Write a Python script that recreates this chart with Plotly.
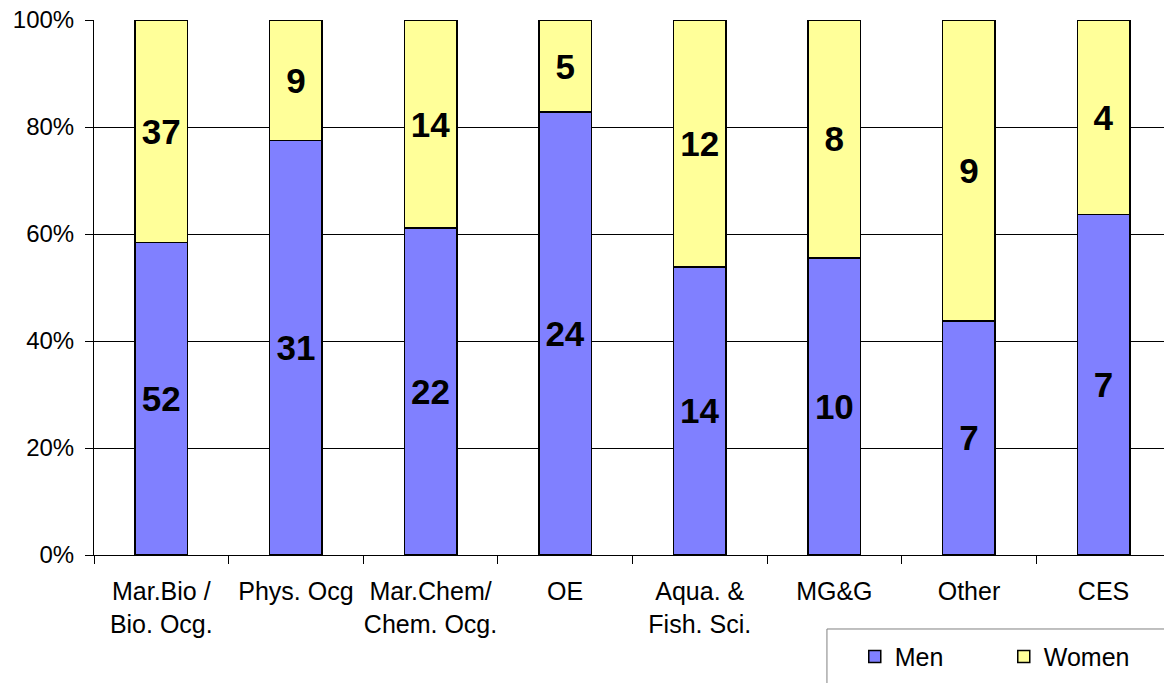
import plotly.graph_objects as go

categories = ["Mar.Bio /<br>Bio. Ocg.", "Phys. Ocg", "Mar.Chem/<br>Chem. Ocg.", "OE",
              "Aqua. &<br>Fish. Sci.", "MG&G", "Other", "CES"]
men = [52, 31, 22, 24, 14, 10, 7, 7]
women = [37, 9, 14, 5, 12, 8, 9, 4]

FONT = "Liberation Sans, Arial, sans-serif"

fig = go.Figure()
fig.add_bar(name="Men", x=categories, y=men, text=men, texttemplate="%{text}",
            textposition="inside", insidetextanchor="middle", textangle=0,
            marker=dict(color="#8080FF", line=dict(color="#000000", width=1.5)),
            textfont=dict(family=FONT, size=35, color="#000000", weight="bold"))
fig.add_bar(name="Women", x=categories, y=women, text=women, texttemplate="%{text}",
            textposition="inside", insidetextanchor="middle", textangle=0,
            marker=dict(color="#FFFF99", line=dict(color="#000000", width=1.5)),
            textfont=dict(family=FONT, size=35, color="#000000", weight="bold"))

fig.update_layout(
    width=1164, height=683,
    margin=dict(l=94, r=0, t=20, b=128),
    barmode="stack", barnorm="percent", bargap=0.61,
    plot_bgcolor="#FFFFFF", paper_bgcolor="#FFFFFF",
    font=dict(family=FONT, color="#000000"),
    showlegend=True,
    legend=dict(orientation="h", x=0.711, y=-0.147, xanchor="left", yanchor="top",
                font=dict(family=FONT, size=25, color="#000000"),
                bgcolor="rgba(0,0,0,0)", borderwidth=0,
                entrywidthmode="pixels", entrywidth=104, traceorder="normal"),
    shapes=[dict(type="rect", xref="paper", yref="paper",
                 x0=0.685, x1=1.05, y0=-0.1383, y1=-0.4,
                 line=dict(color="#808080", width=1), fillcolor="rgba(0,0,0,0)", layer="below")],
)
fig.update_traces(constraintext="none", cliponaxis=False)
fig.update_xaxes(range=[-0.5, 7.449], tickson="boundaries", ticks="outside", ticklen=8,
                 tickcolor="#000000", showline=True, linecolor="#000000", linewidth=1,
                 tickangle=0, automargin=False, ticklabelstandoff=14,
                 tickfont=dict(family=FONT, size=25, color="#000000"), showgrid=False)
fig.update_yaxes(range=[0, 100], dtick=20, ticksuffix="%", ticks="outside", ticklen=8,
                 tickcolor="#000000", showline=True, linecolor="#000000", linewidth=1,
                 showgrid=True, gridcolor="#000000", gridwidth=1, zeroline=False,
                 ticklabelstandoff=6, automargin=False,
                 tickfont=dict(family=FONT, size=24, color="#000000"))

fig.write_html("out.html")
